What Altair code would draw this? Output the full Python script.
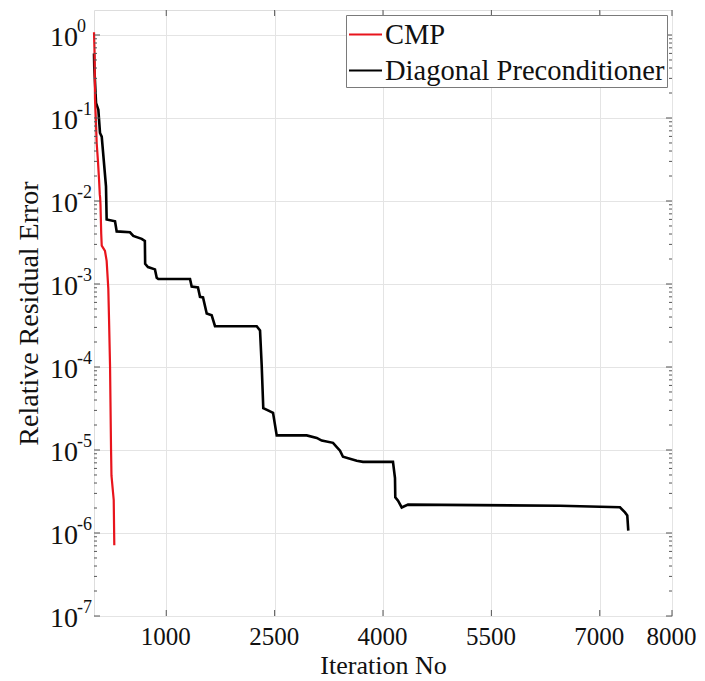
import altair as alt
import pandas as pd

# ---- data ----
cmp_iter = [0, 8, 14, 25, 37, 55, 70, 80, 85, 90, 100, 107, 152, 175, 198, 208, 222, 236, 242, 273, 281]
cmp_err = [1.08, 0.6, 0.17, 0.1, 0.05, 0.03, 0.018, 0.012, 0.011, 0.009, 0.004, 0.0029, 0.0025,
           0.0019, 8.8e-4, 3.8e-4, 1.04e-4, 1.0e-5, 4.9e-6, 2.5e-6, 7.1e-7]

diag_iter = [0, 4, 28, 60, 83, 107, 166, 175, 291, 314, 498, 544, 660, 704, 708, 747, 844, 868, 890,
             1329, 1352, 1439, 1467, 1509, 1560, 1629, 1675, 2252, 2298, 2321, 2343, 2408, 2478, 2529,
             2944, 3083, 3152, 3308, 3405, 3446, 3636, 3723, 4138, 4166, 4170, 4208, 4259, 4346,
             6450, 7280, 7349, 7381, 7395]
diag_err = [0.6, 0.41, 0.152, 0.126, 0.066, 0.0596, 0.015, 0.006, 0.0057, 0.0043, 0.0042, 0.0038,
            0.0035, 0.0033, 0.00175, 0.0016, 0.0015, 0.00119, 0.00115, 0.00115, 9.3e-4, 9.1e-4,
            7.0e-4, 6.9e-4, 4.4e-4, 4.2e-4, 3.1e-4, 3.1e-4, 2.75e-4, 1.05e-4, 3.2e-5, 3.0e-5, 2.8e-5,
            1.5e-5, 1.5e-5, 1.4e-5, 1.3e-5, 1.22e-5, 9.8e-6, 8.3e-6, 7.4e-6, 7.2e-6, 7.2e-6, 4.6e-6,
            2.7e-6, 2.45e-6, 2.03e-6, 2.2e-6, 2.13e-6, 2.04e-6, 1.77e-6, 1.63e-6, 1.07e-6]

series_names = ["CMP", "Diagonal Preconditioner"]
series_colors = ["#e8141c", "#000000"]

x_ticks = [1000, 2500, 4000, 5500, 7000, 8000]
y_exponents = [0, -1, -2, -3, -4, -5, -6, -7]

# ---- tables ----
df_cmp = pd.DataFrame({"iter": cmp_iter, "err": cmp_err, "series": series_names[0]})
df_diag = pd.DataFrame({"iter": diag_iter, "err": diag_err, "series": series_names[1]})

y_major = [10.0 ** e for e in y_exponents]
df_ylab = pd.DataFrame({"v": y_major, "base": ["10"] * len(y_exponents),
                        "sup": [str(e) for e in y_exponents]})
minor = []
for e in y_exponents:
    for m in range(2, 10):
        val = m * 10.0 ** e
        if val < 2:
            minor.append(val)
df_minor = pd.DataFrame({"v": minor})
df_major = pd.DataFrame({"v": y_major})
df_xt = pd.DataFrame({"v": x_ticks})

W, H = 578, 606
FONT = "Liberation Serif"
TICK = "#555555"

x_scale = alt.Scale(domain=[0, 8000], nice=False, zero=False)
y_scale = alt.Scale(type="log", domain=[1e-7, 2], nice=False)
color_scale = alt.Scale(domain=series_names, range=series_colors)

x_enc = alt.X("iter:Q", scale=x_scale,
              axis=alt.Axis(values=x_ticks, format="d", title="Iteration No", grid=True,
                            gridColor="#e4e4e4", ticks=False, domain=False, labelFont=FONT,
                            labelFontSize=25, labelColor="#111111", labelPadding=8,
                            labelOffset=-1, labelFlush=False, titleFont=FONT, titleFontSize=26,
                            titleFontWeight="normal", titleColor="#111111", titlePadding=3))
y_enc = alt.Y("err:Q", scale=y_scale,
              axis=alt.Axis(values=y_major, labels=False, ticks=False, domain=False, grid=True,
                            gridColor="#e4e4e4", title="Relative Residual Error",
                            titleFont=FONT, titleFontSize=28, titleFontWeight="normal",
                            titleColor="#111111", titleBaseline="alphabetic",
                            titleX=-57, titleY=H / 2, titleAngle=-90))
legend = alt.Legend(title=None, orient="none", legendX=252, legendY=5, symbolType="stroke",
                    symbolSize=1089, symbolStrokeWidth=2, labelFont=FONT, labelFontSize=28.5,
                    labelColor="#111111", labelOffset=2, rowPadding=4, padding=2,
                    strokeColor="#7a7a7a", fillColor="white", cornerRadius=0,
                    labelLimit=400)

diag_line = alt.Chart(df_diag).mark_line(strokeWidth=2.6, interpolate="linear").encode(
    x=x_enc, y=y_enc,
    color=alt.Color("series:N", scale=color_scale, legend=legend))
cmp_line = alt.Chart(df_cmp).mark_line(strokeWidth=2.2, interpolate="linear").encode(
    x=alt.X("iter:Q", scale=x_scale), y=alt.Y("err:Q", scale=y_scale),
    color=alt.Color("series:N", scale=color_scale, legend=legend))

# inward ticks (MATLAB style)
yv = alt.Y("v:Q", scale=y_scale)
xv = alt.X("v:Q", scale=x_scale)
minor_l = alt.Chart(df_minor).mark_rule(color=TICK, strokeWidth=1).encode(
    y=yv, x=alt.value(0), x2=alt.value(3))
minor_r = alt.Chart(df_minor).mark_rule(color=TICK, strokeWidth=1).encode(
    y=yv, x=alt.value(W), x2=alt.value(W - 3))
major_l = alt.Chart(df_major).mark_rule(color=TICK, strokeWidth=1).encode(
    y=yv, x=alt.value(0), x2=alt.value(6))
major_r = alt.Chart(df_major).mark_rule(color=TICK, strokeWidth=1).encode(
    y=yv, x=alt.value(W), x2=alt.value(W - 6))
xt_b = alt.Chart(df_xt).mark_rule(color=TICK, strokeWidth=1).encode(
    x=xv, y=alt.value(H), y2=alt.value(H - 6))
xt_t = alt.Chart(df_xt).mark_rule(color=TICK, strokeWidth=1).encode(
    x=xv, y=alt.value(0), y2=alt.value(6))

# y tick labels: 10 with superscript exponent
ylab_base = alt.Chart(df_ylab).mark_text(font=FONT, fontSize=28, align="left",
                                         baseline="alphabetic", dy=11, color="#111111").encode(
    y=yv, x=alt.value(-44), text="base:N")
ylab_sup = alt.Chart(df_ylab).mark_text(font=FONT, fontSize=18, align="left",
                                        baseline="alphabetic", dy=-3, color="#111111").encode(
    y=yv, x=alt.value(-17), text="sup:N")

chart = alt.layer(
    diag_line, cmp_line, minor_l, minor_r, major_l, major_r, xt_b, xt_t, ylab_base, ylab_sup
).properties(
    width=W, height=H,
    autosize=alt.AutoSizeParams(type="none"),
    padding={"left": 86, "top": 2, "right": 25, "bottom": 64},
).configure_view(stroke="#7a7a7a", strokeWidth=1).configure(background="white")

chart.save("out.html", embed_options={"renderer": "svg", "actions": False})
